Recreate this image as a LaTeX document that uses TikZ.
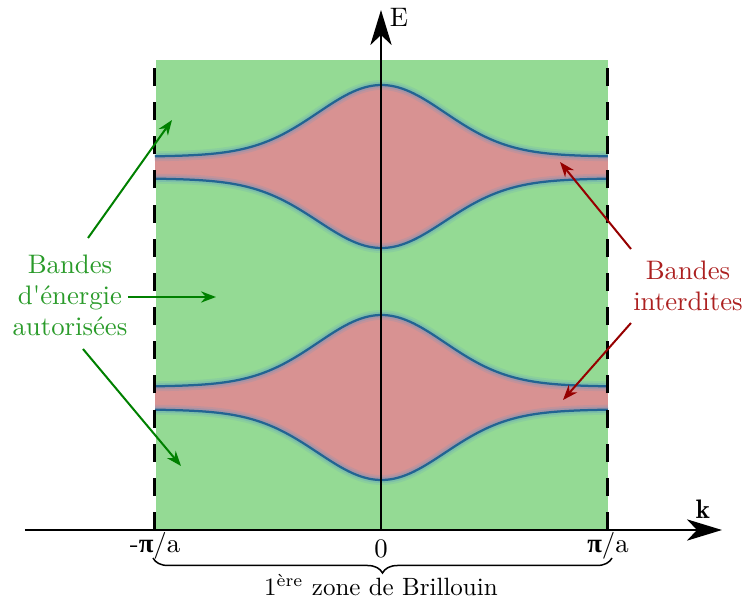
\documentclass[tikz,border=0pt]{standalone}
\usepackage{amsmath}
\usepackage{fontspec}
\newfontfamily\pifont{Liberation Serif}
\usetikzlibrary{arrows.meta,decorations.pathreplacing}
\definecolor{zonegreen}{RGB}{148,218,148}
\definecolor{bandpink}{RGB}{216,146,146}
\definecolor{curveblue}{RGB}{34,100,146}
\definecolor{glowblue}{RGB}{90,150,200}
\definecolor{labgreen}{RGB}{42,155,42}
\definecolor{arrgreen}{RGB}{0,128,0}
\definecolor{labred}{RGB}{172,32,32}
\definecolor{arrred}{RGB}{150,0,0}
\newcommand{\bpi}{{\pifont\bfseries π}}
\tikzset{
  axisline/.style={line width=1pt,-{Stealth[length=14pt,width=8.5pt,inset=4pt]}},
  zoneline/.style={line width=1.2pt,dash pattern=on 7.2pt off 6.46pt},
  glowA/.style={glowblue,opacity=0.16,line width=4pt},
  glowB/.style={glowblue,opacity=0.28,line width=2.4pt},
  curve/.style={curveblue,line width=0.9pt},
  garrow/.style={arrgreen,line width=0.8pt,-{Stealth[length=6pt,width=4.5pt]}},
  rarrow/.style={arrred,line width=0.8pt,-{Stealth[length=6pt,width=4.5pt]}},
  lab/.style={font=\fontsize{10.7}{12.4}\selectfont,align=center,inner sep=0pt},
  axlab/.style={font=\fontsize{10.7}{12.8}\selectfont,inner sep=0pt},
  zonelab/.style={font=\fontsize{10}{12}\selectfont,inner sep=0pt},
}
\begin{document}
\begin{tikzpicture}[x=0.4pt,y=-0.4pt,
  declare function={prof(\u)=0.94*exp(-\u*\u)+0.06*exp(-0.309*\u*\u);}]
\useasboundingbox (0,0) rectangle (743,600);
% zone
\fill[zonegreen] (156,60) rectangle (608,530);
% bands: x = 381.5 + 89 u
\def\ua{-2.545}\def\ub{2.545}
\fill[bandpink] plot[domain=\ua:\ub,samples=120,smooth] ({381.5+89*\x},{157-72*prof(\x)})
  -- plot[domain=\ub:\ua,samples=120,smooth] ({381.5+89*\x},{178+70*prof(\x)}) -- cycle;
\fill[bandpink] plot[domain=\ua:\ub,samples=120,smooth] ({381.5+89*\x},{387-72*prof(\x)})
  -- plot[domain=\ub:\ua,samples=120,smooth] ({381.5+89*\x},{409+71*prof(\x)}) -- cycle;
\foreach \st in {glowA,glowB,curve}{
  \draw[\st] plot[domain=\ua:\ub,samples=120,smooth] ({381.5+89*\x},{157-72*prof(\x)});
  \draw[\st] plot[domain=\ua:\ub,samples=120,smooth] ({381.5+89*\x},{178+70*prof(\x)});
  \draw[\st] plot[domain=\ua:\ub,samples=120,smooth] ({381.5+89*\x},{387-72*prof(\x)});
  \draw[\st] plot[domain=\ua:\ub,samples=120,smooth] ({381.5+89*\x},{409+71*prof(\x)});
}
% zone borders (dashes anchored at the k axis)
\draw[zoneline] (155,530) -- (155,60);
\draw[zoneline] (608,530) -- (608,60);
% axes
\coordinate (O) at (381,530);
\coordinate (Etip) at (381,10);
\coordinate (kstart) at (25,530);
\coordinate (ktip) at (722,530);
\draw[axisline] (O) -- (Etip);
\draw[axisline] (kstart) -- (ktip);
\node[axlab] (Elab) at (399,17) {E};
\node[axlab] (klab) at (703,509) {$\mathbf{k}$};
\node[axlab] (mpa) at (155,546) {-\bpi/a};
\node[axlab] (pa) at (608,546) {\bpi/a};
\node[axlab] (zero) at (381,549) {0};
% brace
\coordinate (brL) at (153,558);
\coordinate (brR) at (612,558);
\draw[line width=0.6pt,decorate,decoration={brace,mirror,amplitude=6pt}] (brL) -- (brR);
\node[zonelab] (zone) at (381,585) {1$^{\text{ère}}$ zone de Brillouin};
% green label
\node[lab,text=labgreen] (gl) at (70,295) {Bandes\\d\textquotesingle énergie\\autorisées};
\coordinate (g1s) at (88,238); \coordinate (g1e) at (172,120);
\coordinate (g2s) at (128,297); \coordinate (g2e) at (216,297);
\coordinate (g3s) at (83,349); \coordinate (g3e) at (181,466);
\draw[garrow] (g1s) -- (g1e);
\draw[garrow] (g2s) -- (g2e);
\draw[garrow] (g3s) -- (g3e);
% red label
\node[lab,text=labred] (rl) at (688,286) {Bandes\\interdites};
\coordinate (r1s) at (631,249); \coordinate (r1e) at (560,162);
\coordinate (r2s) at (631,323); \coordinate (r2e) at (563,400);
\draw[rarrow] (r1s) -- (r1e);
\draw[rarrow] (r2s) -- (r2e);
\end{tikzpicture}
\end{document}
